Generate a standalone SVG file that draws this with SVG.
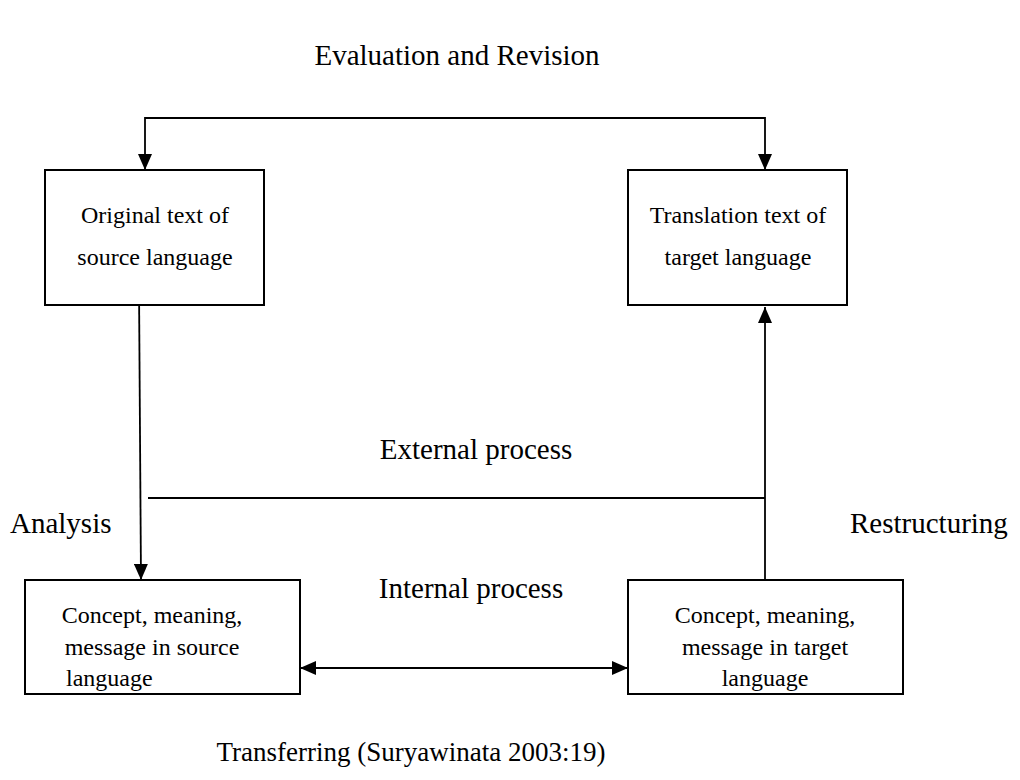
<svg xmlns="http://www.w3.org/2000/svg" width="1020" height="780" viewBox="0 0 1020 780">
<style>
  .box { fill: #ffffff; stroke: #000000; stroke-width: 2; }
  .line { fill: none; stroke: #000000; stroke-width: 1.8; }
  .lbl { font-family: "Liberation Serif", "Times New Roman", serif; font-size: 29px; fill: #000000; }
  .cap { font-family: "Liberation Serif", "Times New Roman", serif; font-size: 27px; fill: #000000; }
  .txt { font-family: "Liberation Serif", "Times New Roman", serif; font-size: 24px; fill: #000000; }
</style>
<defs>
  <marker id="arr" viewBox="0 0 16 14" refX="16" refY="7" markerWidth="16" markerHeight="14" markerUnits="userSpaceOnUse" orient="auto-start-reverse">
    <path d="M0,0 L16,7 L0,14 Z" fill="#000000"/>
  </marker>
</defs>
<rect width="1020" height="780" fill="#ffffff"/>
<g id="connectors">
  <path class="line" d="M145,170 L145,118 L765,118 L765,170" marker-start="url(#arr)" marker-end="url(#arr)"/>
  <path class="line" d="M139,287 L141,580" marker-end="url(#arr)"/>
  <path class="line" d="M765,580 L765,307" marker-end="url(#arr)"/>
  <path class="line" d="M148,498 L765,498"/>
  <path class="line" d="M300,668 L628,668" marker-start="url(#arr)" marker-end="url(#arr)"/>
</g>
<g id="label-evaluation"><text class="lbl" x="457" y="65" text-anchor="middle">Evaluation and Revision</text></g>
<g id="label-external"><text class="lbl" x="476" y="459" text-anchor="middle">External process</text></g>
<g id="label-analysis"><text class="lbl" x="10" y="533">Analysis</text></g>
<g id="label-restructuring"><text class="lbl" x="850" y="533">Restructuring</text></g>
<g id="label-internal"><text class="lbl" x="471" y="598" text-anchor="middle">Internal process</text></g>
<g id="label-transferring"><text class="cap" x="411" y="761" text-anchor="middle">Transferring (Suryawinata 2003:19)</text></g>
<g id="node-source-text">
  <rect class="box" x="45" y="170" width="219" height="135"/>
  <text class="txt" x="155" y="223" text-anchor="middle">Original text of</text>
  <text class="txt" x="155" y="265" text-anchor="middle">source language</text>
</g>
<g id="node-target-text">
  <rect class="box" x="628" y="170" width="219" height="135"/>
  <text class="txt" x="738" y="223" text-anchor="middle">Translation text of</text>
  <text class="txt" x="738" y="265" text-anchor="middle">target language</text>
</g>
<g id="node-source-concept">
  <rect class="box" x="25" y="580" width="275" height="114"/>
  <text class="txt" x="152" y="623" text-anchor="middle">Concept, meaning,</text>
  <text class="txt" x="152" y="655" text-anchor="middle">message in source</text>
  <text class="txt" x="66" y="686">language</text>
</g>
<g id="node-target-concept">
  <rect class="box" x="628" y="580" width="275" height="114"/>
  <text class="txt" x="765" y="623" text-anchor="middle">Concept, meaning,</text>
  <text class="txt" x="765" y="655" text-anchor="middle">message in target</text>
  <text class="txt" x="765" y="686" text-anchor="middle">language</text>
</g>
</svg>
